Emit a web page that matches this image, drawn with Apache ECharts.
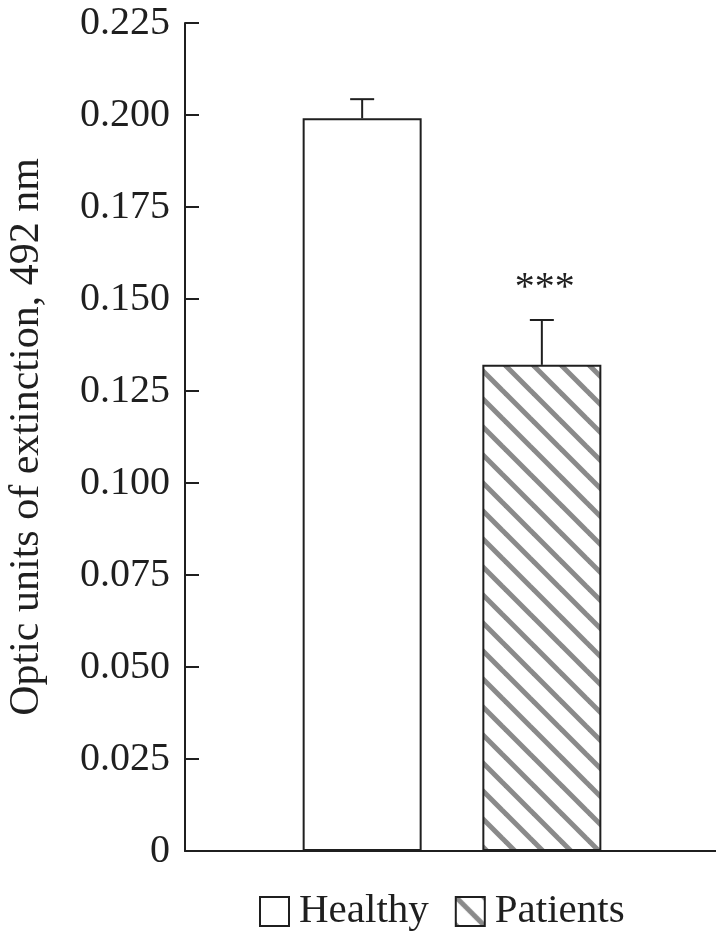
<!DOCTYPE html>
<html>
<head>
<meta charset="utf-8">
<script src="https://cdn.jsdelivr.net/npm/echarts@6/dist/echarts.min.js"></script>
<style>
html,body{margin:0;padding:0;background:#fff;}
#chart{width:716px;height:931px;}
</style>
</head>
<body>
<div id="chart"></div>
<script>
// ---- data ----
const groups = ['Healthy', 'Patients'];
const means = [0.1991, 0.1321];
const sds = [0.0052, 0.0122];
const marks = ['', '***'];
const yTicks = { min: 0, max: 0.225, interval: 0.025 };

// ---- stripe pattern ----
function makeStripes(size, width, color) {
  const c = document.createElement('canvas');
  c.width = size; c.height = size;
  const ctx = c.getContext('2d');
  ctx.fillStyle = '#fff';
  ctx.fillRect(0, 0, size, size);
  ctx.strokeStyle = color;
  ctx.lineWidth = width;
  [-size, 0, size].forEach(function (o) {
    ctx.beginPath();
    ctx.moveTo(-5, -5 + o);
    ctx.lineTo(size + 5, size + 5 + o);
    ctx.stroke();
  });
  return c;
}
const stripe = makeStripes(28, 5, '#8a8a8a');

const FONT = 'Liberation Serif';
const INK = '#1f1f1f';
const BAR_W = 119;
const BAR_GAP = '51%';

const chart = echarts.init(document.getElementById('chart'), null, { renderer: 'canvas' });

function errorRender(params, api) {
  const slot = api.value(3);
  let offset;
  if (api.barLayout) {
    const lay = api.barLayout({ count: 2, barWidth: BAR_W, barGap: BAR_GAP });
    offset = lay[slot].offsetCenter;
  } else {
    const gap = BAR_W * 0.51;
    offset = (slot === 0 ? -1 : 1) * (BAR_W + gap) / 2;
  }
  const b = api.coord([api.value(0), api.value(1)]);
  const t = api.coord([api.value(0), api.value(2)]);
  const x = b[0] + offset;
  const style = { stroke: INK, lineWidth: 2 };
  const children = [
    { type: 'line', shape: { x1: x, y1: b[1], x2: x, y2: t[1] }, style: style },
    { type: 'line', shape: { x1: x - 12, y1: t[1], x2: x + 12, y2: t[1] }, style: style }
  ];
  const m = marks[params.dataIndex + slot];
  if (m) {
    children.push({
      type: 'text',
      style: { text: m, x: x + 3, y: t[1] - 31, align: 'center', verticalAlign: 'middle',
        font: '40px "' + FONT + '"', fill: INK }
    });
  }
  return { type: 'group', children: children };
}

const option = {
  animation: false,
  backgroundColor: '#fff',
  grid: { left: 185, right: -3, top: 23, bottom: 80, containLabel: false, outerBoundsMode: 'none' },
  legend: {
    left: 254, top: 886,
    itemWidth: 29, itemHeight: 29, itemGap: 26,
    icon: 'rect',
    data: groups,
    textStyle: { fontFamily: FONT, fontSize: 41, color: INK, padding: [0, 0, 0, 5] }
  },
  xAxis: {
    type: 'category',
    data: ['all'],
    axisLine: { lineStyle: { color: INK, width: 2 } },
    axisTick: { show: false },
    axisLabel: { show: false },
    splitLine: { show: false }
  },
  yAxis: {
    type: 'value',
    min: yTicks.min, max: yTicks.max, interval: yTicks.interval,
    name: 'Optic units of extinction, 492 nm',
    nameLocation: 'middle',
    nameGap: 137,
    nameTextStyle: { fontFamily: FONT, fontSize: 42, color: INK },
    axisLine: { show: true, lineStyle: { color: INK, width: 2 } },
    axisTick: { show: true, inside: true, length: 14, lineStyle: { color: INK, width: 2 } },
    axisLabel: {
      fontFamily: FONT, fontSize: 40, color: INK, margin: 15,
      formatter: function (v) { return v === 0 ? '0' : v.toFixed(3); }
    },
    splitLine: { show: false }
  },
  series: [
    {
      name: groups[0], type: 'bar', barWidth: BAR_W, barGap: BAR_GAP,
      data: [means[0]],
      itemStyle: { color: '#ffffff', borderColor: INK, borderWidth: 2 }
    },
    {
      name: groups[1], type: 'bar', barWidth: BAR_W, barGap: BAR_GAP,
      data: [means[1]],
      itemStyle: { color: { image: stripe, repeat: 'repeat' }, borderColor: INK, borderWidth: 2 }
    },
    {
      type: 'custom', name: 'err0', renderItem: errorRender, z: 5,
      data: [[0, means[0], means[0] + sds[0], 0]]
    },
    {
      type: 'custom', name: 'err1', renderItem: errorRender, z: 5,
      data: [[0, means[1], means[1] + sds[1], 1]]
    }
  ]
};
chart.setOption(option);
</script>
</body>
</html>
